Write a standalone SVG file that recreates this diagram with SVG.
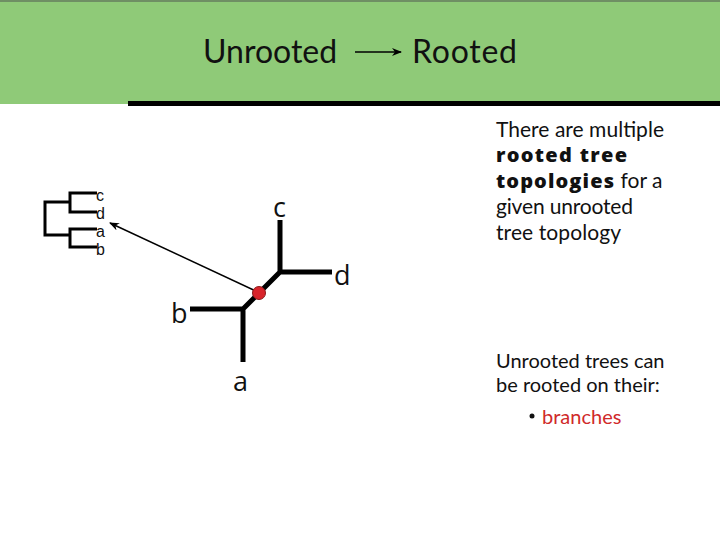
<svg xmlns="http://www.w3.org/2000/svg" width="720" height="540" viewBox="0 0 720 540">
<style>
.hdr{font-family:Lato,"Open Sans",sans-serif;font-size:32px;fill:#111}
.txt{font-family:Lato,"Open Sans",sans-serif;font-size:20px;fill:#111}
.t1{font-size:21px}
.b{font-family:"Open Sans",Lato,sans-serif;font-weight:800;font-size:20px}
.lbl{font-family:"Open Sans",Lato,sans-serif;font-size:27px;fill:#111}
.leaf{font-family:"Liberation Sans",Arial,sans-serif;font-size:16px;fill:#111}
.br{stroke:#000;stroke-width:5;fill:none;stroke-linecap:butt}
.sm{stroke:#000;stroke-width:3;fill:none}
</style>
<defs>
<marker id="ah" markerWidth="10" markerHeight="8" refX="9" refY="4" orient="auto" markerUnits="userSpaceOnUse">
<path d="M0,0 L10,4 L0,8 L3,4 Z" fill="#000"/>
</marker>
</defs>
<rect width="720" height="540" fill="#fff"/>
<g id="header">
<rect x="0" y="0" width="720" height="104" fill="#8fca78"/>
<rect x="0" y="0" width="720" height="2" fill="#6f8f64"/>
<rect x="128" y="101" width="592" height="5" fill="#000"/>
<text class="hdr" x="203" y="63">Unrooted</text>
<text class="hdr" x="412" y="63" textLength="105">Rooted</text>
</g>
<g id="small-tree">
<path class="sm" d="M70,193 H97 M70,212 H97 M70,191.5 V213.5 M70,229 H97 M70,247 H97 M70,227.5 V248.5 M45,202 H70 M45,235 H70 M45,200.5 V236.5"/>
<text class="leaf" x="96" y="201">c</text>
<text class="leaf" x="96" y="219">d</text>
<text class="leaf" x="96" y="237">a</text>
<text class="leaf" x="96" y="255">b</text>
</g>
<g id="unrooted-tree">
<path class="br" d="M280,220 V272 H332 M280,272 L243,309 M190,309 H243 M243,306.5 V362"/>
<text class="lbl" x="273" y="217">c</text>
<text class="lbl" x="334" y="285">d</text>
<text class="lbl" x="171" y="323">b</text>
<text class="lbl" x="233" y="391">a</text>
</g>
<g id="connectors">
<line x1="258" y1="292" x2="110" y2="223" stroke="#000" stroke-width="1.5" marker-end="url(#ah)"/>
<line x1="355" y1="52" x2="401" y2="52" stroke="#000" stroke-width="1.6" marker-end="url(#ah)"/>
</g>
<g id="root-point">
<circle cx="259" cy="293" r="6.5" fill="#d9242b" stroke="#8a1a1a" stroke-width="1"/>
</g>
<g id="text-block-1">
<text class="txt t1" x="496" y="137" textLength="168">There are multiple</text>
<text class="txt t1 b" x="496" y="162" textLength="131">rooted tree</text>
<text class="txt t1" x="496" y="188"><tspan class="b" textLength="118">topologies</tspan> for a</text>
<text class="txt t1" x="496" y="214" textLength="137">given unrooted</text>
<text class="txt t1" x="496" y="240" textLength="125">tree topology</text>
</g>
<g id="text-block-2">
<text class="txt" x="496" y="368">Unrooted trees can</text>
<text class="txt" x="496" y="392">be rooted on their:</text>
<circle cx="532" cy="416" r="2.5" fill="#111"/>
<text class="txt" x="542" y="424" style="fill:#d02a2a">branches</text>
</g>
</svg>
